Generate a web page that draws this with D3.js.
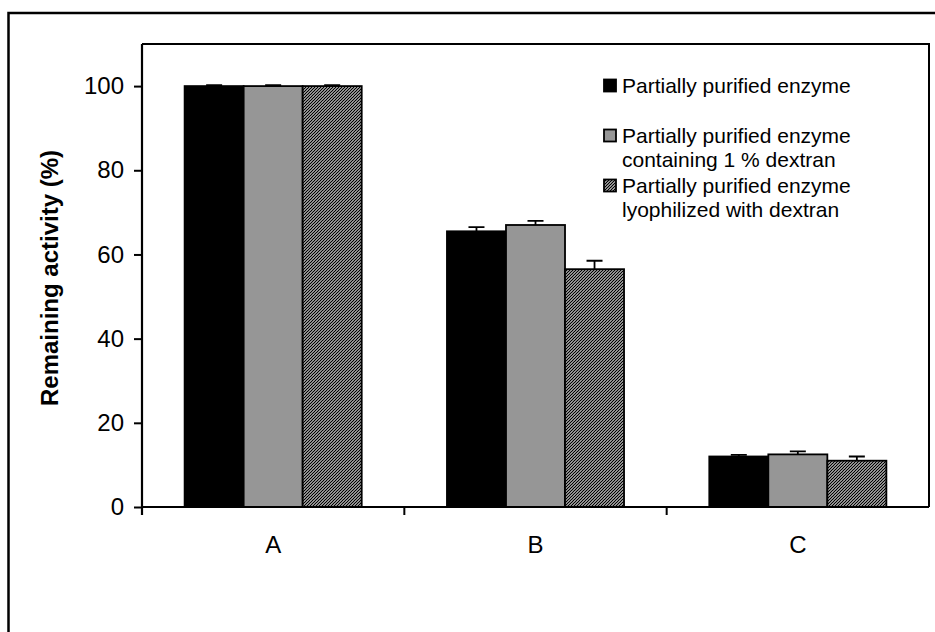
<!DOCTYPE html>
<html>
<head>
<meta charset="utf-8">
<script src="https://cdn.jsdelivr.net/npm/d3@7"></script>
<style>
  html, body { margin: 0; padding: 0; background: #fff; }
  svg { display: block; }
  text { font-family: "Liberation Sans", Arial, sans-serif; fill: #000; }
</style>
</head>
<body>
<svg id="chart" width="935" height="632"></svg>
<script>
// Samples and treatments
const categories = ["A", "B", "C"];
const seriesNames = [
  ["Partially purified enzyme"],
  ["Partially purified enzyme", "containing 1 % dextran"],
  ["Partially purified enzyme", "lyophilized with dextran"]
];
// Remaining activity (%) per series, one value per category
const enzymeValues   = [100, 65.5, 12.0];
const dextranValues  = [100, 67.0, 12.5];
const lyophValues    = [100, 56.5, 11.0];
// Standard deviations (upper error bars)
const enzymeErr  = [0.2, 1.0, 0.4];
const dextranErr = [0.2, 1.0, 0.7];
const lyophErr   = [0.2, 2.0, 1.0];
const yTicks = [0, 20, 40, 60, 80, 100];
const yLabel = "Remaining activity (%)";

const series = [
  { key: "s0", values: enzymeValues,  err: enzymeErr,  fill: "#000000" },
  { key: "s1", values: dextranValues, err: dextranErr, fill: "#969696" },
  { key: "s2", values: lyophValues,   err: lyophErr,   fill: "url(#hatch)" }
];

const svg = d3.select("#chart");

// Fine diagonal hatch pattern for the lyophilized series
const defs = svg.append("defs");
const pat = defs.append("pattern")
  .attr("id", "hatch").attr("patternUnits", "userSpaceOnUse")
  .attr("width", 3).attr("height", 3);
pat.append("rect").attr("width", 3).attr("height", 3).attr("fill", "#fff");
pat.append("path").attr("d", "M-1,1 l2,-2 M0,3 l3,-3 M2,4 l2,-2")
  .attr("stroke", "#000").attr("stroke-width", 1.25);

// Outer frame
svg.append("rect")
  .attr("x", 8.5).attr("y", 13).attr("width", 940).attr("height", 640)
  .attr("fill", "none").attr("stroke", "#000").attr("stroke-width", 2.5);

const plot = { left: 142, right: 929, top: 44, bottom: 507 };

const x0 = d3.scaleBand().domain(categories)
  .range([plot.left, plot.right]).paddingInner(0.325).paddingOuter(0.1625);
const x1 = d3.scaleBand().domain(series.map(s => s.key))
  .range([0, x0.bandwidth()]).padding(0);
const y = d3.scaleLinear().domain([0, 110]).range([plot.bottom, plot.top]);

// Plot area frame (top and right)
svg.append("path")
  .attr("d", `M${plot.left},${plot.top}H${plot.right}V${plot.bottom}`)
  .attr("fill", "none").attr("stroke", "#000").attr("stroke-width", 2);

// Bars
const groups = svg.append("g").selectAll("g")
  .data(series).join("g");

const rows = s => s.values.map((v, i) => ({ s, v, cat: categories[i], e: s.err[i] }));

// Error bars (upper half), drawn behind the bars
groups.selectAll("path.err")
  .data(s => rows(s).filter(d => d.e > 0))
  .join("path").attr("class", "err")
  .attr("d", d => {
    const cx = x0(d.cat) + x1(d.s.key) + x1.bandwidth() / 2;
    return `M${cx},${y(d.v)}V${y(d.v + d.e)}M${cx - 8},${y(d.v + d.e)}H${cx + 8}`;
  })
  .attr("fill", "none").attr("stroke", "#000").attr("stroke-width", 1.8);

groups.selectAll("rect")
  .data(rows)
  .join("rect")
  .attr("x", d => x0(d.cat) + x1(d.s.key))
  .attr("y", d => y(d.v))
  .attr("width", x1.bandwidth())
  .attr("height", d => y(0) - y(d.v))
  .attr("fill", d => d.s.fill)
  .attr("stroke", "#000").attr("stroke-width", 1.8);

// Y axis
const yAxis = svg.append("g")
  .attr("transform", `translate(${plot.left},0)`)
  .call(d3.axisLeft(y).tickValues(yTicks).tickSize(8).tickPadding(10).tickSizeOuter(0));
yAxis.attr("font-size", null).attr("font-family", null);
yAxis.select(".domain").remove();
yAxis.append("line").attr("x1", 0).attr("x2", 0)
  .attr("y1", plot.top).attr("y2", plot.bottom + 8)
  .attr("stroke", "#000").attr("stroke-width", 2.2);
yAxis.selectAll(".tick line").attr("stroke", "#000").attr("stroke-width", 2);
yAxis.selectAll(".tick text")
  .style("font-size", "24px").attr("fill", "#000");

// X axis
const xAxisG = svg.append("g");
xAxisG.append("line")
  .attr("x1", plot.left).attr("x2", plot.right)
  .attr("y1", plot.bottom).attr("y2", plot.bottom)
  .attr("stroke", "#000").attr("stroke-width", 2);
const boundaries = categories.map(c => x0(c) - x0.step() * x0.paddingInner() / 2);
xAxisG.selectAll("line.tk")
  .data(boundaries).join("line").attr("class", "tk")
  .attr("x1", d => d).attr("x2", d => d)
  .attr("y1", plot.bottom).attr("y2", plot.bottom + 8)
  .attr("stroke", "#000").attr("stroke-width", 2);
xAxisG.selectAll("text")
  .data(categories).join("text")
  .attr("x", d => x0(d) + x0.bandwidth() / 2)
  .attr("y", 553)
  .attr("text-anchor", "middle")
  .style("font-size", "24px")
  .text(d => d);

// Y axis title
svg.append("text")
  .attr("transform", `translate(58,278) rotate(-90)`)
  .attr("text-anchor", "middle")
  .style("font-size", "24px").style("font-weight", "bold")
  .text(yLabel);

// Legend
const legendY = [86, 136, 186];
const legend = svg.append("g");
series.forEach((s, i) => {
  legend.append("rect")
    .attr("x", 604).attr("y", legendY[i] - 6.5)
    .attr("width", 12).attr("height", 12)
    .attr("fill", s.fill).attr("stroke", "#000").attr("stroke-width", 1.8);
  seriesNames[i].forEach((line, j) => {
    legend.append("text")
      .attr("x", 622).attr("y", legendY[i] + 7 + j * 24)
      .style("font-size", "21px")
      .text(line);
  });
});
</script>
</body>
</html>
